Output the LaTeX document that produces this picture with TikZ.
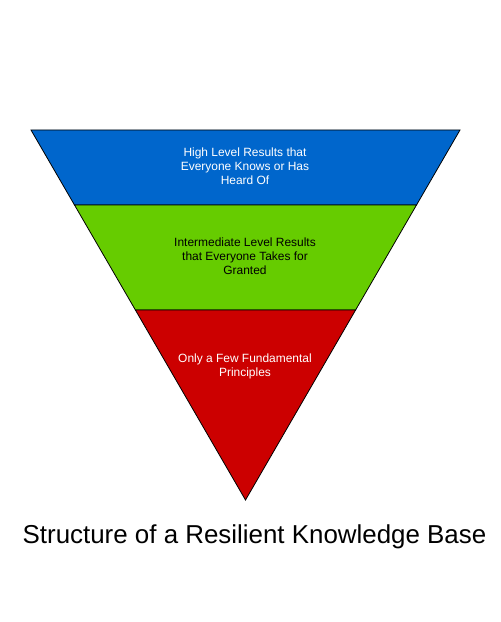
\documentclass[tikz,border=0pt]{standalone}
\usepackage{fontspec}
\setmainfont{Liberation Sans}
\definecolor{topblue}{HTML}{0066CC}
\definecolor{midgreen}{HTML}{66CC00}
\definecolor{lowred}{HTML}{CC0000}
\begin{document}
\begin{tikzpicture}[x=1bp,y=-1bp,
  band/.style={draw=black,line width=0.8bp,line join=miter},
  bandtext/.style={align=center,font=\fontsize{12}{14}\selectfont,inner sep=0pt},
  titletext/.style={font=\fontsize{26}{30}\selectfont,inner sep=0pt}]
\useasboundingbox (0,0) rectangle (501,622);
\fill[white] (0,0) rectangle (501,622);
\coordinate (tl) at (31,130);
\coordinate (tr) at (460,130);
\coordinate (ml) at (74.5,205);
\coordinate (mr) at (416.5,205);
\coordinate (ll) at (135.4,310);
\coordinate (lr) at (355.6,310);
\coordinate (apex) at (245.5,500);
\path[band,fill=topblue] (tl) -- (tr) -- (mr) -- (ml) -- cycle;
\path[band,fill=midgreen] (ml) -- (mr) -- (lr) -- (ll) -- cycle;
\path[band,fill=lowred] (ll) -- (lr) -- (apex) -- cycle;
\node[bandtext,text=white] (high) at (245,166) {High Level Results that\\Everyone Knows or Has\\Heard Of};
\node[bandtext,text=black] (mid) at (245,256) {Intermediate Level Results\\that Everyone Takes for\\Granted};
\node[bandtext,text=white] (low) at (245,366) {Only a Few Fundamental\\Principles};
\node[titletext] (title) at (254.5,537) {Structure of a Resilient Knowledge Base};
\end{tikzpicture}
\end{document}
